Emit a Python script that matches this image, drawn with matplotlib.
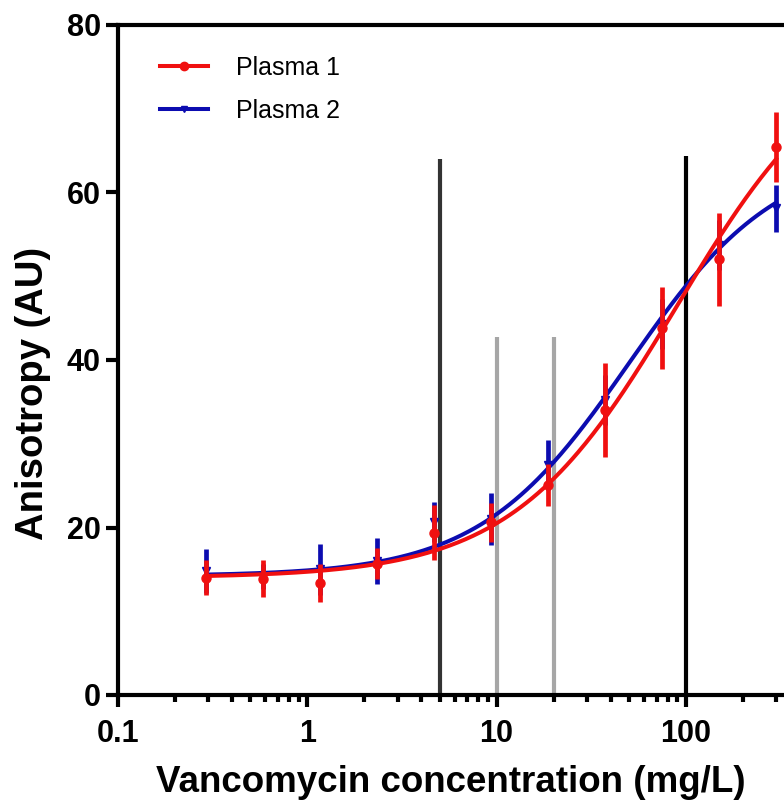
import numpy as np
import matplotlib
matplotlib.use("Agg")
import matplotlib.pyplot as plt
from matplotlib.ticker import LogLocator, FixedLocator, NullFormatter, FixedFormatter

# ---- data ----
conc = [0.293, 0.586, 1.17, 2.34, 4.69, 9.38, 18.75, 37.5, 75, 150, 300]
p1_mean = [14.0, 13.9, 13.4, 15.7, 19.4, 20.6, 25.1, 34.0, 43.8, 52.0, 65.4]
p1_err = [2.1, 2.2, 2.3, 1.8, 3.3, 2.3, 2.5, 5.6, 4.9, 5.6, 4.2]
p2_mean = [14.8, 14.2, 15.0, 16.0, 20.7, 21.0, 27.5, 35.2, 44.3, 53.7, 58.1]
p2_err = [2.6, 1.5, 3.0, 2.7, 2.4, 3.1, 3.0, 3.0, 3.0, 3.0, 2.8]
# 4-parameter logistic fit parameters (bottom, top, EC50, hill)
p1_fit = [14.0, 79.0, 90.0, 1.0]
p2_fit = [14.2, 65.0, 50.0, 1.1]
series_labels = ["Plasma 1", "Plasma 2"]
vline_x = [5, 10, 20, 100]
vline_top = [64.0, 42.7, 42.7, 64.3]
vline_colors = ["#333333", "#a6a6a6", "#a6a6a6", "#000000"]
x_ticks = [0.1, 1, 10, 100]
x_ticklabels = ["0.1", "1", "10", "100"]
y_ticks = [0, 20, 40, 60, 80]

RED = "#f01010"
BLUE = "#0c0cb0"

def logistic(x, p):
    b, t, ec, h = p
    return b + (t - b) / (1 + (ec / x) ** h)

plt.rcParams['font.family'] = ['Liberation Sans', 'DejaVu Sans']

fig = plt.figure(figsize=(7.84, 8.07), dpi=100)
ax = fig.add_axes([118/784, 112/807, 1 - 118/784, (694-24)/807])

# vertical reference lines
for xv, top, c in zip(vline_x, vline_top, vline_colors):
    ax.plot([xv, xv], [0, top], color=c, lw=3, solid_capstyle='butt', zorder=1)

xs = np.logspace(np.log10(conc[0]), np.log10(conc[-1]), 300)

# Plasma 2 (blue)
ax.errorbar(conc, p2_mean, yerr=p2_err, fmt='v', color=BLUE, ms=5.5, elinewidth=3.4,
            capsize=0, zorder=3)
ax.plot(xs, logistic(xs, p2_fit), color=BLUE, lw=2.9, zorder=3)
# Plasma 1 (red)
ax.errorbar(conc, p1_mean, yerr=p1_err, fmt='o', color=RED, ms=6.5, elinewidth=3.4,
            capsize=0, zorder=4)
ax.plot(xs, logistic(xs, p1_fit), color=RED, lw=2.9, zorder=4)

# legend proxies
h1, = ax.plot([], [], color=RED, lw=2.9, marker='o', ms=6)
h2, = ax.plot([], [], color=BLUE, lw=2.9, marker='v', ms=5)
leg = fig.legend([h1, h2], series_labels, loc='upper left',
                 bbox_to_anchor=(160/784, 1 - 56/807), frameon=False,
                 fontsize=18, handlelength=1.9, handletextpad=1.15,
                 labelspacing=0.75, borderpad=0, borderaxespad=0)

ax.set_xscale('log')
ax.set_xlim(0.1, 330)
ax.set_ylim(0, 80)

ax.xaxis.set_major_locator(FixedLocator(x_ticks))
ax.xaxis.set_major_formatter(FixedFormatter(x_ticklabels))
ax.xaxis.set_minor_locator(LogLocator(base=10, subs=np.arange(2, 10)))
ax.xaxis.set_minor_formatter(NullFormatter())
ax.set_yticks(y_ticks)

for s in ['left', 'top', 'bottom']:
    ax.spines[s].set_linewidth(3)
ax.spines['right'].set_visible(False)

ax.tick_params(axis='both', which='major', direction='out', length=8.5, width=3,
               labelsize=22)
ax.tick_params(axis='x', which='major', pad=9)
ax.tick_params(axis='y', which='major', pad=4)
ax.tick_params(axis='x', which='minor', direction='out', length=5, width=3)
for lab in ax.get_xticklabels() + ax.get_yticklabels():
    lab.set_fontweight('bold')

ax.set_xlabel("Vancomycin concentration (mg/L)", fontsize=26.5, fontweight='bold', labelpad=11)
ax.set_ylabel("Anisotropy (AU)", fontsize=27.5, fontweight='bold')
ax.yaxis.set_label_coords(-0.100, 0.45)

fig.savefig("out.png", dpi=100)
